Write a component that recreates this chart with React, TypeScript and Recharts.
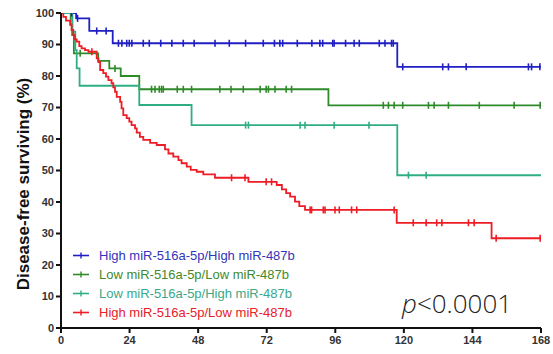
import React from "react";
import { ComposedChart, Line, Scatter, XAxis, YAxis, Label } from "recharts";

const xTicks = [0, 24, 48, 72, 96, 120, 144, 168];
const yTicks = [0, 10, 20, 30, 40, 50, 60, 70, 80, 90, 100];

const seriesNames = [
  "High miR-516a-5p/High miR-487b",
  "Low miR-516a-5p/Low miR-487b",
  "Low miR-516a-5p/High miR-487b",
  "High miR-516a-5p/Low miR-487b",
];
const lineColors = ["#1f1fc4", "#2f8a2a", "#2fae82", "#ee1c25"];
const textColors = ["#3535b8", "#3f8a2c", "#3aa88a", "#e8202a"];

// [month, survival %]
const hhSteps = [
  [0, 100], [5.3, 98.3], [9.9, 94.3], [18.1, 90.4], [117.7, 82.9], [168, 82.9],
];
const hhCensor = [
  [3.7, 100], [5.8, 98.3], [12.5, 94.3], [15.8, 94.3],
  [20.1, 90.4], [21.3, 90.4], [23.0, 90.4], [23.9, 90.4], [24.8, 90.4], [28.8, 90.4],
  [30.9, 90.4], [34.9, 90.4], [38.8, 90.4], [42.8, 90.4], [46.6, 90.4], [53.9, 90.4],
  [58.9, 90.4], [64.6, 90.4], [70.8, 90.4], [74.7, 90.4], [76.6, 90.4], [77.6, 90.4],
  [82.7, 90.4], [87.8, 90.4], [90.6, 90.4], [91.6, 90.4], [95.1, 90.4], [95.6, 90.4],
  [99.6, 90.4], [102.6, 90.4], [104.4, 90.4], [111.4, 90.4], [113.4, 90.4], [115.7, 90.4],
  [116.3, 90.4],
  [119.6, 82.9], [133.6, 82.9], [135.6, 82.9], [141.8, 82.9], [163.6, 82.9], [164.7, 82.9],
  [167.6, 82.9],
];

const llSteps = [
  [0, 100], [3.4, 96.5], [3.9, 93], [4.5, 87.2], [13, 84.8], [16.9, 82.4], [20.9, 80],
  [27.4, 75.8], [93.6, 70.7], [168, 70.7],
];
const llCensor = [
  [6.7, 87.2], [18.9, 82.4],
  [31.7, 75.8], [32.9, 75.8], [34.4, 75.8], [35.2, 75.8], [35.8, 75.8], [40.7, 75.8],
  [42.8, 75.8], [45.7, 75.8], [55.6, 75.8], [59.5, 75.8], [63.8, 75.8], [69.7, 75.8],
  [71.8, 75.8], [72.6, 75.8], [74.9, 75.8], [78.8, 75.8], [80.7, 75.8],
  [112.8, 70.7], [114.6, 70.7], [116.6, 70.7], [119.6, 70.7], [128.6, 70.7], [130.6, 70.7],
  [135.6, 70.7], [146.4, 70.7], [158.6, 70.7], [167.7, 70.7],
];

const lhSteps = [
  [0, 100], [4.0, 94.1], [5.0, 88.2], [5.5, 82.4], [6.5, 76.9], [27.4, 70.8],
  [45.7, 64.4], [117.7, 48.5], [168, 48.5],
];
const lhCensor = [
  [64.6, 64.4], [65.6, 64.4], [83.7, 64.4], [85.4, 64.4], [95.6, 64.4], [107.8, 64.4],
  [121.6, 48.5], [127.8, 48.5],
];

const hlSteps = [
  [0, 100], [0.8, 98.8], [1.75, 97.6], [3.2, 96.2], [3.7, 94.6], [4.3, 93.0], [4.9, 91.6],
  [5.5, 90.9], [6.4, 89.5], [7.2, 88.8], [8.4, 88.2], [9.6, 87.7], [12.5, 85.6],
  [13.1, 84.4], [13.7, 81.9], [14.8, 80.9], [15.75, 79.8], [16.6, 78.7], [17.7, 77.7],
  [18.3, 76.4], [18.9, 75.0], [19.5, 73.4], [20.7, 71.8], [21.2, 69.7], [21.8, 67.6],
  [23, 66.6], [23.9, 65.5], [24.7, 64.4], [25.9, 63.4], [26.5, 62.0], [27.6, 60.7],
  [28.8, 59.7], [31.2, 58.8], [33.5, 58.1], [36.4, 56.7], [37.6, 55.4], [39.3, 54.4],
  [41.1, 53.3], [42.2, 52.3], [44.0, 51.2], [45.4, 50.2], [47.5, 49.6], [49.8, 48.8],
  [53.9, 47.7], [65.6, 46.4], [75.5, 45.4], [77.3, 44.0], [78.8, 42.8], [80.2, 41.7],
  [81.9, 40.1], [83.4, 38.7], [85.4, 37.5], [117.5, 33.4], [150.7, 28.5], [168, 28.5],
];
const hlCensor = [
  [10.8, 87.7], [59.7, 47.7], [64.4, 47.7], [71.8, 46.4], [73.7, 46.4],
  [87.2, 37.5], [87.7, 37.5], [91.8, 37.5], [92.4, 37.5], [95.9, 37.5], [97.4, 37.5],
  [101.7, 37.5], [103.5, 37.5], [116.6, 37.5],
  [123.3, 33.4], [127.8, 33.4], [131.5, 33.4], [133.3, 33.4], [142.6, 33.4], [144.6, 33.4],
  [152.3, 28.5], [167.7, 28.5],
];

const toRows = (arr: number[][]) => arr.map(([x, y]) => ({ x, y }));

const groups = [
  { steps: hhSteps, censor: hhCensor },
  { steps: llSteps, censor: llCensor },
  { steps: lhSteps, censor: lhCensor },
  { steps: hlSteps, censor: hlCensor },
];

const makeTick = (color: string) => (props: any) => {
  const { cx, cy } = props;
  if (cx == null || cy == null) return <g />;
  return <line x1={cx} y1={cy - 3.5} x2={cx} y2={cy + 3.5} stroke={color} strokeWidth={1.6} />;
};

const tickStyle = { fontFamily: "Liberation Sans, Arial, sans-serif", fontSize: 11, fontWeight: 700, fill: "#333" };

export default function App() {
  return (
    <div style={{ position: "absolute", left: 0, top: 0, width: 553, height: 354, background: "#fff" }}>
      <ComposedChart width={553} height={354} margin={{ top: 13, right: 12, bottom: 0, left: 0 }}>
        <XAxis
          type="number"
          dataKey="x"
          domain={[0, 168]}
          ticks={xTicks}
          allowDataOverflow
          tick={tickStyle}
          tickSize={5}
          tickMargin={3}
          height={26}
          stroke="#111"
          strokeWidth={2}
          tickLine={{ stroke: "#111", strokeWidth: 2 }}
          axisLine={{ stroke: "#111", strokeWidth: 2 }}
        />
        <YAxis
          type="number"
          dataKey="y"
          domain={[0, 100]}
          ticks={yTicks}
          allowDataOverflow
          tick={tickStyle}
          tickSize={5}
          tickMargin={2}
          width={61}
          tickLine={{ stroke: "#111", strokeWidth: 2 }}
          axisLine={{ stroke: "#111", strokeWidth: 2 }}
        >
          <Label
            content={() => (
              <text
                x={23}
                y={184}
                transform="rotate(-90 23 184)"
                textAnchor="middle"
                dominantBaseline="central"
                style={{ fontFamily: "Liberation Sans, Arial, sans-serif", fontSize: 17, fontWeight: 700, fill: "#111" }}
              >
                Disease-free surviving (%)
              </text>
            )}
          />
        </YAxis>
        {groups.map((g, i) => (
          <Line
            key={"l" + i}
            data={toRows(g.steps)}
            dataKey="y"
            type="stepAfter"
            stroke={lineColors[i]}
            strokeWidth={1.8}
            dot={false}
            activeDot={false}
            isAnimationActive={false}
          />
        ))}
        {groups.map((g, i) => (
          <Scatter
            key={"s" + i}
            data={toRows(g.censor)}
            dataKey="y"
            fill={lineColors[i]}
            shape={makeTick(lineColors[i])}
            isAnimationActive={false}
          />
        ))}
      </ComposedChart>
      {seriesNames.map((name, i) => (
        <div
          key={name}
          style={{
            position: "absolute",
            left: 72,
            top: 246 + i * 19,
            height: 19,
            display: "flex",
            alignItems: "center",
            fontFamily: "Liberation Sans, Arial, sans-serif",
            fontSize: 13,
            color: textColors[i],
            whiteSpace: "nowrap",
          }}
        >
          <svg width={27} height={19} style={{ display: "block" }}>
            <line x1={1} y1={9.5} x2={17} y2={9.5} stroke={lineColors[i]} strokeWidth={1.6} />
            <line x1={9} y1={6.5} x2={9} y2={12.5} stroke={lineColors[i]} strokeWidth={1.4} />
          </svg>
          <span>{name}</span>
        </div>
      ))}
      <div
        style={{
          position: "absolute",
          left: 402,
          top: 286,
          fontFamily: "Open Sans, sans-serif",
          fontSize: 26,
          fontWeight: 300,
          color: "#222",
          whiteSpace: "nowrap",
          lineHeight: "34px",
        }}
      >
        <i>p</i>&lt;0.0001
      </div>
    </div>
  );
}
